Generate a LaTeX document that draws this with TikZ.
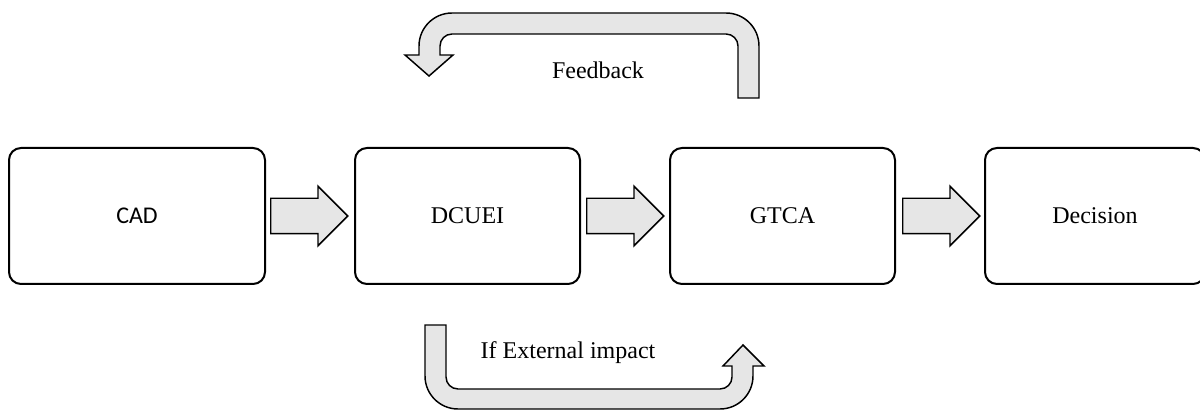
\documentclass[tikz,border=0pt]{standalone}
\usepackage{fontspec}
\setmainfont{Liberation Serif}
\newfontfamily\cadfont{Carlito}
\usetikzlibrary{positioning,shapes.arrows}
\definecolor{arrowfill}{HTML}{E6E6E6}

\begin{document}
\begin{tikzpicture}[x=0.75pt, y=0.75pt, font=\fontsize{18}{22}\selectfont,
  node distance=66pt,
  stage/.style={draw, line width=1.5pt, rounded corners=9pt, minimum height=102pt, align=center},
  flowarrow/.style={single arrow, draw, fill=arrowfill, line width=1.1pt, inner sep=12.75pt,
    single arrow head extend=9pt, minimum height=57.75pt, anchor=tail},
  looparrow/.style={draw, fill=arrowfill, line width=1.1pt, line join=miter}]
  \useasboundingbox (0,0) rectangle (1200,411);
  \node[stage, minimum width=192pt] (cad) at (137,195) {\cadfont CAD};
  \node[stage, minimum width=168.75pt, right=of cad] (dcuei) {DCUEI};
  \node[stage, minimum width=168.75pt, right=of dcuei] (gtca) {GTCA};
  \node[stage, minimum width=165pt, right=of gtca] (decision) {Decision};
  \node[flowarrow] (a1) at ([xshift=3pt]cad.east) {};
  \node[flowarrow] (a2) at ([xshift=3.75pt]dcuei.east) {};
  \node[flowarrow] (a3) at ([xshift=4.5pt]gtca.east) {};
  \draw[looparrow] (759,313) -- (738,313) -- (738,365) arc[start angle=0, end angle=90, radius=12]
    -- (452,377) arc[start angle=90, end angle=180, radius=12] -- (440,356) -- (453,356)
    -- (429,335) -- (405,356) -- (419,356) -- (419,365) arc[start angle=180, end angle=90, radius=33]
    -- (726,398) arc[start angle=90, end angle=0, radius=33] -- cycle;
  \draw[looparrow] (425,86) -- (446,86) -- (446,34) arc[start angle=180, end angle=270, radius=12]
    -- (720,22) arc[start angle=270, end angle=360, radius=12] -- (732,45) -- (723,45)
    -- (743,66) -- (764,45) -- (753,45) -- (753,35) arc[start angle=0, end angle=-90, radius=33]
    -- (458,2) arc[start angle=270, end angle=180, radius=33] -- cycle;
  \node (feedback) at (598,341) {Feedback};
  \node (impact) at (568,58) {If External impact};
\end{tikzpicture}
\end{document}
